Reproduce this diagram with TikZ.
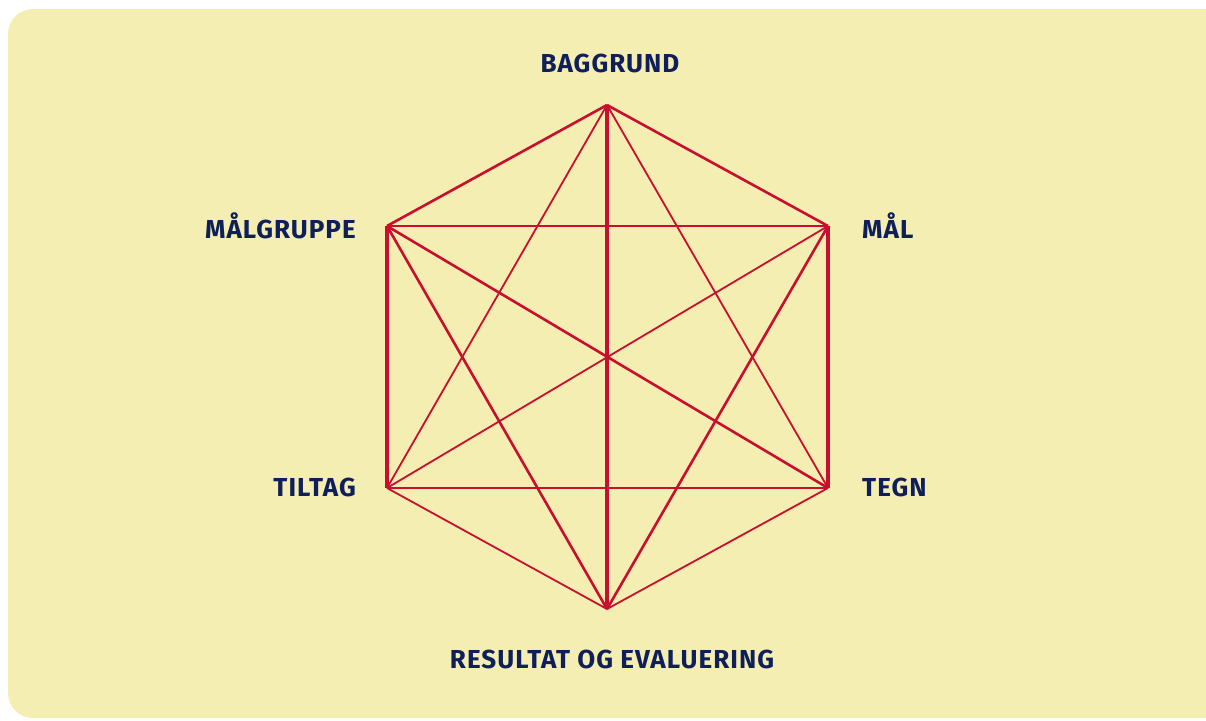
\documentclass[tikz,border=0pt]{standalone}
\usepackage{fontspec}
\setmainfont{Fira Sans}
\newfontfamily\lblfont[LetterSpace=4]{Fira Sans}
\definecolor{bgyellow}{HTML}{F5EEB3}
\definecolor{hexred}{HTML}{C8102E}
\definecolor{navy}{HTML}{0F1F5A}
\begin{document}
\begin{tikzpicture}[x=1pt,y=-1pt,
  lbl/.style={font=\lblfont\fontsize{26}{30}\selectfont\bfseries, text=navy, inner sep=0pt},
  thick3/.style={draw=hexred, line width=3.4pt},
  thick2/.style={draw=hexred, line width=2.6pt},
  thin1/.style={draw=hexred, line width=1.8pt}]
\useasboundingbox (0,0) rectangle (1206,720);
\fill[bgyellow, rounded corners=25pt] (8,9) rectangle (1230,718);
\coordinate (T) at (607,105);
\coordinate (UL) at (387,226);
\coordinate (UR) at (828,226);
\coordinate (LL) at (387,488);
\coordinate (LR) at (828,488);
\coordinate (B) at (607,609);
% vertical
\draw[thick3] (T) -- (B);
\draw[thick3] (UL) -- (LL);
\draw[thick3] (UR) -- (LR);
% horizontals
\draw[thick2] (UL) -- (UR);
\draw[thick2] (LL) -- (LR);
% hexagon slanted edges
\draw[thick2] (T) -- (UL);
\draw[thick2] (T) -- (UR);
\draw[thin1] (LL) -- (B);
\draw[thin1] (LR) -- (B);
% diagonals through center
\draw[thick2] (UL) -- (LR);
\draw[thin1] (UR) -- (LL);
% triangle lines
\draw[thin1] (T) -- (LL);
\draw[thin1] (T) -- (LR);
\draw[thick2] (UL) -- (B);
\draw[thick2] (UR) -- (B);
% labels
\node[lbl, anchor=base] (baggrund) at (610,72) {BAGGRUND};
\node[lbl, anchor=base east] (malgruppe) at (356,238) {MÅLGRUPPE};
\node[lbl, anchor=base west] (mal) at (862,238) {MÅL};
\node[lbl, anchor=base east] (tiltag) at (356,496) {TILTAG};
\node[lbl, anchor=base west] (tegn) at (862,496) {TEGN};
\node[lbl, anchor=base] (resultat) at (612,668) {RESULTAT OG EVALUERING};
\end{tikzpicture}
\end{document}
